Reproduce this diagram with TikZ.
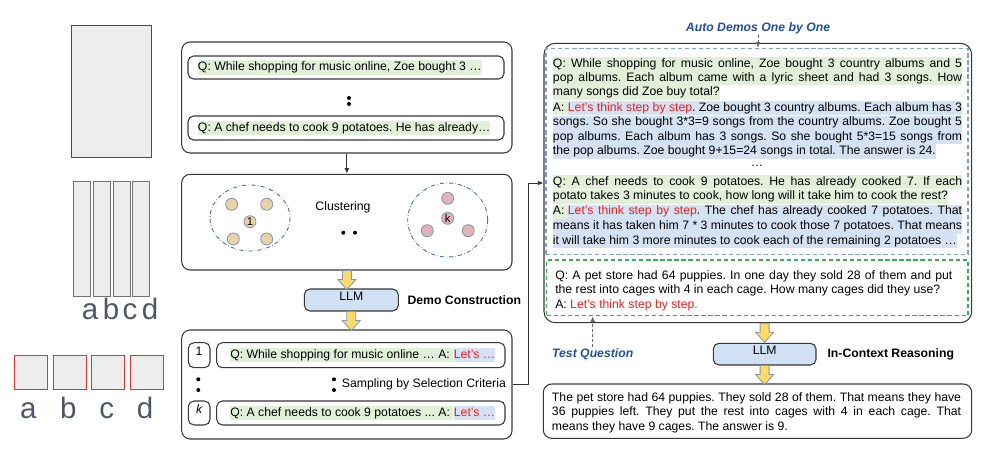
\documentclass[tikz,border=0pt]{standalone}
\usepackage{fontspec}
\setmainfont{Liberation Sans}
\frenchspacing
\usepackage{tikz}
\usetikzlibrary{positioning, fit, arrows.meta}
\definecolor{qgreen}{HTML}{E2F0D9}
\definecolor{ablue}{HTML}{D5E2F3}
\definecolor{letsred}{HTML}{F21C1C}
\definecolor{llmblue}{HTML}{D0E1F3}
\definecolor{boxgray}{HTML}{EDEDED}
\definecolor{arrowyellow}{HTML}{FFDA6B}
\definecolor{arrowedge}{HTML}{8497B0}
\definecolor{titleblue}{HTML}{1F4E9F}
\definecolor{dashblue}{HTML}{7C9FD8}
\definecolor{dashgreen}{HTML}{2FB24C}
\definecolor{ringblue}{HTML}{4A6A9C}
\definecolor{dottan}{HTML}{E6D4A6}
\definecolor{dotpink}{HTML}{E3B4B6}
\definecolor{letgray}{HTML}{4F5665}
\newlength{\demowidth}
\setlength{\demowidth}{10.225cm}
\newlength{\testwidth}
\setlength{\testwidth}{9.925cm}
\newcommand{\lets}[1]{\textcolor{letsred}{#1}}
\newcommand{\apart}{A:\kern\fontdimen2\font}
\tikzset{
	yellowdown/.pic={
			\draw[fill=arrowyellow, draw=arrowedge, line width=0.6pt]
			(-4.5,0) --
			(-4.5,9) --
			(-9,9) --
			(0,19) --
			(9,9) --
			(4.5,9) --
			(4.5,0) --
			cycle;
		}
}
\tikzset{
	bodytext/.style={font=\fontsize{8.7}{10.3}\selectfont, inner sep=0pt}
}
\tikzset{
	hlline/.style={bodytext, anchor=west, text height=6.9pt, text depth=2.6pt, inner ysep=0.3pt}
}
\tikzset{
	roundbox/.style={draw=black!78, line width=0.75pt, rounded corners=6pt, inner sep=0pt}
}
\tikzset{
	smallbox/.style={roundbox, rounded corners=4pt, font=\fontsize{8.7}{10}\selectfont}
}
\tikzset{
	llmbox/.style={smallbox, fill=llmblue}
}
\tikzset{
	boldlabel/.style={font=\fontsize{8.7}{10}\selectfont\bfseries, anchor=west, inner sep=0pt}
}
\tikzset{
	bluetitle/.style={font=\fontsize{8.7}{10}\selectfont\bfseries\itshape, text=titleblue, inner sep=1pt}
}
\tikzset{
	sheet/.style={fill=boxgray, line width=0.7pt}
}
\tikzset{
	bigletter/.style={font=\fontsize{21}{24}\selectfont, text=letgray, anchor=base, inner sep=0pt}
}
\tikzset{
	ring/.style={draw=ringblue, line width=0.6pt, dash pattern=on 3pt off 1.5pt on 0.5pt off 1.5pt}
}
\tikzset{
	clusterdot/.style={circle, draw=arrowedge, line width=0.6pt, minimum size=0.3cm, inner sep=0pt, font=\fontsize{8}{9}\selectfont}
}
\tikzset{
	flow/.style={draw=black!80, line width=0.6pt, -{Latex[length=4pt, width=3.4pt]}}
}
\tikzset{
	dashflow/.style={flow, draw=black!60, dash pattern=on 2pt off 1.5pt}
}
\tikzset{
	dashframe/.style={line width=0.8pt, dash pattern=on 3pt off 2pt, inner sep=0pt}
}

\begin{document}
\begin{tikzpicture}[x=0.025cm, y=-0.025cm]
	\useasboundingbox (0,0) rectangle (987,455);

	\begin{scope}
		\draw[sheet, draw=black!70] (71,25) rectangle (151,157);
		\foreach \x in {73,93,113,132} {
				\draw[sheet, draw=black!55] (\x,181) rectangle ++(17,115);
			}
		\node[bigletter] (ua) at (90,319) {a};
		\node[bigletter] (ub) at (111,319) {b};
		\node[bigletter] (uc) at (130,319) {c};
		\node[bigletter] (ud) at (150,319) {d};

		\foreach \x in {14,53,91,130} {
				\draw[sheet, draw=red!85] (\x,355) rectangle ++(33,34);
			}
		\node[bigletter] (la) at (28.3,418) {a};
		\node[bigletter] (lb) at (68.3,418) {b};
		\node[bigletter] (lc) at (106.7,418) {c};
		\node[bigletter] (ld) at (145,418) {d};
	\end{scope}

	\begin{scope}
		\node[roundbox, fit={(181.7,42) (512,153)}] (qbox) {};
		\node[smallbox, fit={(188,56) (504,79)}] (qfirst) {};
		\node[hlline, fill=qgreen] (qfirsttxt) at (197.7,67.5) {Q: While shopping for music online, Zoe bought 3 …};
		\fill (349,98) circle (2);
		\fill (349,104) circle (2);
		\node[smallbox, fit={(188,116) (504,140)}] (qlast) {};
		\node[hlline, fill=qgreen] (qlasttxt) at (197.7,128) {Q: A chef needs to cook 9 potatoes. He has already…};

		\node[roundbox, fit={(181.7,174.3) (512,270)}] (clbox) {};
		\draw[ring] (250,218) ellipse [x radius=40, y radius=33];
		\draw[ring] (447.7,220) ellipse [x radius=40, y radius=37];
		\node[clusterdot, fill=dottan] (c1a) at (231.7,204.3) {};
		\node[clusterdot, fill=dottan] (c1b) at (266.7,204.3) {};
		\node[clusterdot, fill=dottan] (c1c) at (250,221.7) {1};
		\node[clusterdot, fill=dottan] (c1d) at (233.3,239) {};
		\node[clusterdot, fill=dottan] (c1e) at (266.7,239) {};
		\node[clusterdot, fill=dotpink] (cka) at (447.7,198.3) {};
		\node[clusterdot, fill=dotpink] (ckb) at (447.7,218.3) {k};
		\node[clusterdot, fill=dotpink] (ckc) at (427.3,230.7) {};
		\node[clusterdot, fill=dotpink] (ckd) at (468.3,230.7) {};
		\node[bodytext] (clust) at (343,207) {Clustering};
		\fill (343.3,232.7) circle (2);
		\fill (355,232.7) circle (2);

		\node[llmbox, fit={(304.3,289) (398.3,311)}] (llmdemo) {LLM};
		\node[boldlabel] (democ) at (407.3,300) {Demo Construction};

		\node[roundbox, fit={(181.7,330) (512,439)}] (smpbox) {};
		\node[smallbox, fit={(188.3,342.7) (210,367.7)}] (idxone) {1};
		\node[smallbox, fit={(216.7,342.7) (505,367.7)}] (rowone) {};
		\node[hlline, fill=qgreen] (rowoneq) at (230,355) {Q: While shopping for music online … \apart};
		\node[hlline, fill=ablue, right=0pt of rowoneq] (rowonea) {\lets{Let's …}};
		\fill (198.3,379.3) circle (2);
		\fill (198.3,390) circle (2);
		\fill (334,379.3) circle (2);
		\fill (334,390) circle (2);
		\node[bodytext, anchor=west] (crit) at (341.7,384.5) {Sampling by Selection Criteria};
		\node[smallbox, fit={(188.3,401) (210,425)}] (idxk) {\itshape k};
		\node[smallbox, fit={(216.7,401) (505,425)}] (rowk) {};
		\node[hlline, fill=qgreen] (rowkq) at (230,413) {Q: A chef needs to cook 9 potatoes ... \apart};
		\node[hlline, fill=ablue, right=0pt of rowkq] (rowka) {\lets{Let's …}};
	\end{scope}

	\begin{scope}
		\node[bluetitle] (autot) at (758,28) {Auto Demos One by One};
		\node[roundbox, rounded corners=8pt, fit={(544,43.3) (971.7,322.7)}] (ctxbox) {};
		\node[dashframe, draw=dashblue, fit={(546,48.3) (968,254.3)}] (demobox) {};
		\node[dashframe, draw=dashgreen, fit={(546.7,260) (968,315.7)}] (testbox) {};

		\node[hlline, fill=qgreen] (d1) at (552.7,64) {\makebox[\demowidth][s]{Q: While shopping for music online, Zoe bought 3 country albums and 5}};
		\node[hlline, fill=qgreen] (d2) at (552.7,78.3) {\makebox[\demowidth][s]{pop albums. Each album came with a lyric sheet and had 3 songs. How}};
		\node[hlline, fill=qgreen] (d3) at (552.7,92.5) {many songs did Zoe buy total?};
		\node[hlline, fill=ablue] (d4) at (552.7,108.3) {\makebox[\demowidth][s]{\phantom{\apart}\lets{Let's think step by step}. Zoe bought 3 country albums. Each album has 3}};
		\node[hlline, fill=qgreen] (d4a) at (d4.west) {\apart};
		\node[hlline, fill=ablue] (d5) at (552.7,122.6) {\makebox[\demowidth][s]{songs. So she bought 3*3=9 songs from the country albums. Zoe bought 5}};
		\node[hlline, fill=ablue] (d6) at (552.7,137) {\makebox[\demowidth][s]{pop albums. Each album has 3 songs. So she bought 5*3=15 songs from}};
		\node[hlline, fill=ablue] (d7) at (552.7,151.5) {the pop albums. Zoe bought 9+15=24 songs in total. The answer is 24.};
		\node[bodytext] (gap) at (757,166) {…};
		\node[hlline, fill=qgreen] (e1) at (552.7,182.3) {\makebox[\demowidth][s]{Q: A chef needs to cook 9 potatoes. He has already cooked 7. If each}};
		\node[hlline, fill=qgreen] (e2) at (552.7,196.6) {potato takes 3 minutes to cook, how long will it take him to cook the rest?};
		\node[hlline, fill=ablue] (e3) at (552.7,211.7) {\makebox[\demowidth][s]{\phantom{\apart}\lets{Let's think step by step}. The chef has already cooked 7 potatoes. That}};
		\node[hlline, fill=qgreen] (e3a) at (e3.west) {\apart};
		\node[hlline, fill=ablue] (e4) at (552.7,226.4) {\makebox[\demowidth][s]{means it has taken him 7 * 3 minutes to cook those 7 potatoes. That means}};
		\node[hlline, fill=ablue] (e5) at (552.7,241) {it will take him 3 more minutes to cook each of the remaining 2 potatoes …};

		\node[hlline] (t1) at (555,276) {\makebox[\testwidth][s]{Q: A pet store had 64 puppies. In one day they sold 28 of them and put}};
		\node[hlline] (t2) at (555,290.7) {the rest into cages with 4 in each cage. How many cages did they use?};
		\node[hlline] (t3) at (555,305.3) {A: \lets{Let's think step by step.}};

		\node[bluetitle] (testq) at (592.7,354.3) {Test Question};
		\node[llmbox, fit={(713.3,343.3) (816,365)}] (llmctx) {LLM};
		\node[boldlabel] (icr) at (827.3,354.3) {In-Context Reasoning};

		\node[roundbox, fit={(543.3,384) (971.7,438.3)}] (ansbox) {};
		\node[hlline] (r1) at (551.7,398.3) {\makebox[\demowidth][s]{The pet store had 64 puppies. They sold 28 of them. That means they have}};
		\node[hlline] (r2) at (551.7,412.7) {\makebox[\demowidth][s]{36 puppies left. They put the rest into cages with 4 in each cage. That}};
		\node[hlline] (r3) at (551.7,427) {means they have 9 cages. The answer is 9.};
	\end{scope}

	\draw[flow] (qbox.south) -- (clbox.north);
	\pic at (clbox.south) {yellowdown};
	\pic at (llmdemo.south) {yellowdown};
	\draw[flow] (smpbox.east) -- ++(16,0) |- (ctxbox.west);
	\draw[dashflow] (autot.south) -- (autot.south |- demobox.north);
	\draw[dashflow] (testq.north) -- (testq.north |- testbox.south);
	\pic at (llmctx.north |- ctxbox.south) {yellowdown};
	\pic at (llmctx.south) {yellowdown};

\end{tikzpicture}
\end{document}
